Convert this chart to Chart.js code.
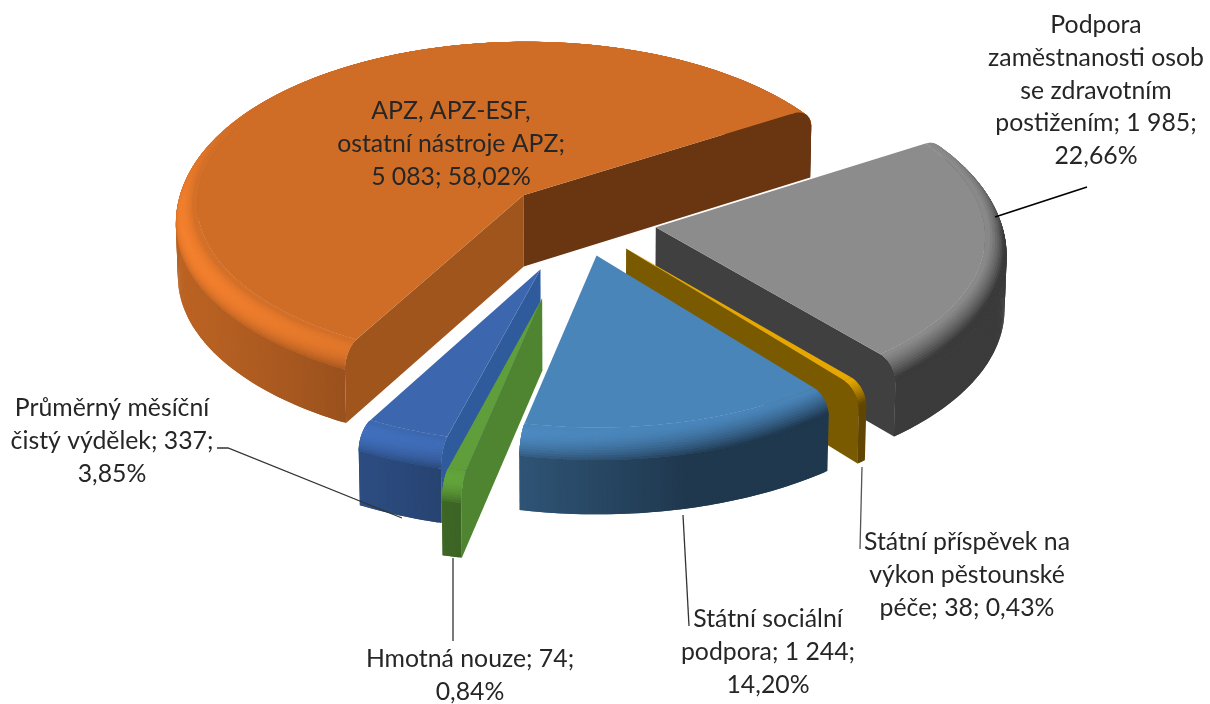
<!DOCTYPE html>
<html lang="cs">
<head>
<meta charset="utf-8">
<title>Výdaje</title>
<script src="https://cdn.jsdelivr.net/npm/chart.js@4"></script>
<style>
html, body { margin: 0; padding: 0; background: #fff; }
canvas { display: block; }
</style>
</head>
<body>
<canvas id="pie" width="1210" height="704"></canvas>
<script>
const categories = [
    'APZ, APZ-ESF, ostatní nástroje APZ',
    'Podpora zaměstnanosti osob se zdravotním postižením',
    'Státní příspěvek na výkon pěstounské péče',
    'Státní sociální podpora',
    'Hmotná nouze',
    'Průměrný měsíční čistý výdělek'
];
const values = [5083, 1985, 38, 1244, 74, 337];
const labelLines = [
    ['APZ, APZ-ESF,', 'ostatní nástroje APZ;', '5 083; 58,02%'],
    ['Podpora', 'zaměstnanosti osob', 'se zdravotním', 'postižením; 1 985;', '22,66%'],
    ['Státní příspěvek na', 'výkon pěstounské', 'péče; 38; 0,43%'],
    ['Státní sociální', 'podpora; 1 244;', '14,20%'],
    ['Hmotná nouze; 74;', '0,84%'],
    ['Průměrný měsíční', 'čistý výdělek; 337;', '3,85%']
];

// look of the slices
const topColors = ['#cf6d27', '#8c8c8c', '#e6a800', '#4a85ba', '#5f9e3a', '#3c67ae'];
const startCutColors = ['#a0551d', '#404040', '#7a5a00', '#2f5f8f', '#4f8430', '#2f5a9b'];
const endCutColors = ['#6a3612', '#404040', '#7a5a00', '#2f5f8f', '#4f8430', '#2f5a9b'];
const explode = [78, 76, 71, 70, 156, 103];
const paintOrder = [0, 1, 2, 5, 4, 3];

// label block: centre x, baseline of first line
const labelPos = [[451, 119], [1096, 33], [967, 550], [768, 627], [470, 667], [112, 416]];
const leaders = [
    { pts: [[995, 217], [1087, 187]], color: '#000000', width: 1.8 },
    { pts: [[862, 467], [860, 549]], color: '#555555', width: 1.3 },
    { pts: [[683, 515], [689, 626]], color: '#333333', width: 1.3 },
    { pts: [[453, 558], [453, 641]], color: '#333333', width: 1.3 },
    { pts: [[217, 448], [228, 448], [402, 518]], color: '#333333', width: 1.3 }
];

const ELEV = Math.asin(0.5);
const CAM = 6000;
const HEIGHT = 82;
const BEVEL = 22;
const LIGHT = [-0.6, 0.15, 0.75];

function shade(hex, nx, ny, nz, backFade) {
    const dot = Math.max(0, nx * LIGHT[0] + ny * LIGHT[1] + nz * LIGHT[2]);
    const ratio = 1 + ((0.35 + 0.65 * dot) / (0.35 + 0.65 * LIGHT[2]) - 1) * backFade;
    const n = parseInt(hex.slice(1), 16);
    const ch = [n >> 16, (n >> 8) & 255, n & 255].map(c => Math.min(255, Math.round(c * ratio)));
    return `rgb(${ch[0]},${ch[1]},${ch[2]})`;
}

function poly(ctx, pts, color) {
    ctx.beginPath();
    pts.forEach((p, i) => i ? ctx.lineTo(p[0], p[1]) : ctx.moveTo(p[0], p[1]));
    ctx.closePath();
    ctx.fillStyle = color;
    ctx.fill();
}

function drawSlice(ctx, arc, i) {
    const { x, y, startAngle, endAngle, outerRadius: R } = arc.getProps(['x', 'y', 'startAngle', 'endAngle', 'outerRadius']);
    const mid = (startAngle + endAngle) / 2;
    const ex = explode[i] * Math.cos(mid);
    const ey = explode[i] * Math.sin(mid);
    const sinE = Math.sin(ELEV);
    const cosE = Math.cos(ELEV);

    const project = (a, r, z) => {
        const X = ex + r * Math.cos(a);
        const Y = ey + r * Math.sin(a);
        const s = CAM / (CAM - (Y * cosE + z * sinE));
        return [x + s * X, y - s * (z * cosE - Y * sinE)];
    };

    const steps = Math.max(2, Math.ceil((endAngle - startAngle) / (Math.PI / 300)));
    const angles = [];
    for (let k = 0; k <= steps; k++) angles.push(startAngle + (endAngle - startAngle) * k / steps);

    // rounded rim profile from the flat top down to the wall
    const rows = 14;
    const profile = [];
    for (let k = 0; k <= rows; k++) {
        const phi = (Math.PI / 2) * k / rows;
        profile.push({ r: R - BEVEL + BEVEL * Math.sin(phi), z: HEIGHT - BEVEL + BEVEL * Math.cos(phi), phi });
    }

    const cutFace = (a, color) => {
        const pts = [project(a, 0, HEIGHT)];
        profile.forEach(p => pts.push(project(a, p.r, p.z)));
        pts.push(project(a, R, 0), project(a, 0, 0));
        poly(ctx, pts, color);
    };

    // the far side of the rim melts into the top colour
    const fade = a => Math.max(0, Math.min(1, (Math.sin(a) + 0.6) / 0.6));

    // each quad overlaps its neighbour by one step so no seams show
    const shell = (front) => {
        for (let k = 0; k < steps; k++) {
            const a0 = angles[k], am = (a0 + angles[k + 1]) / 2, a1 = angles[Math.min(k + 2, steps)];
            if ((Math.sin(am) >= 0) !== front) continue;
            poly(ctx, [project(a0, R, HEIGHT - BEVEL), project(a1, R, HEIGHT - BEVEL), project(a1, R, 0), project(a0, R, 0)],
                shade(topColors[i], Math.cos(am), Math.sin(am), 0, 1));
        }
        for (let row = rows - 1; row >= 0; row--) {
            const p0 = profile[row], p1 = profile[Math.min(row + 2, rows)];
            const phi = (p0.phi + profile[row + 1].phi) / 2;
            for (let k = 0; k < steps; k++) {
                const a0 = angles[k], am = (a0 + angles[k + 1]) / 2, a1 = angles[Math.min(k + 2, steps)];
                if ((Math.sin(am) >= 0) !== front) continue;
                poly(ctx, [project(a0, p0.r, p0.z), project(a1, p0.r, p0.z), project(a1, p1.r, p1.z), project(a0, p1.r, p1.z)],
                    shade(topColors[i], Math.cos(am) * Math.sin(phi), Math.sin(am) * Math.sin(phi), Math.cos(phi), fade(am)));
            }
        }
    };

    // back of the shell, then the cut faces that look at the viewer, then the front
    shell(false);
    if (Math.cos(startAngle) < 0) cutFace(startAngle, startCutColors[i]);
    if (Math.cos(endAngle) > 0) cutFace(endAngle, endCutColors[i]);
    shell(true);

    const top = [project(0, 0, HEIGHT)];
    angles.forEach(a => top.push(project(a, R - BEVEL, HEIGHT)));
    poly(ctx, top, topColors[i]);
}

const pie3d = {
    id: 'pie3d',
    beforeDatasetsDraw(chart) {
        const arcs = chart.getDatasetMeta(0).data;
        paintOrder.forEach(i => drawSlice(chart.ctx, arcs[i], i));
        return false;
    },
    afterDraw(chart) {
        const ctx = chart.ctx;
        ctx.save();
        leaders.forEach(line => {
            ctx.strokeStyle = line.color;
            ctx.lineWidth = line.width;
            ctx.beginPath();
            line.pts.forEach((p, i) => i ? ctx.lineTo(p[0], p[1]) : ctx.moveTo(p[0], p[1]));
            ctx.stroke();
        });
        ctx.font = '24.8px Lato';
        ctx.fillStyle = '#262626';
        ctx.textAlign = 'center';
        ctx.textBaseline = 'alphabetic';
        labelLines.forEach((lines, i) => {
            lines.forEach((text, n) => ctx.fillText(text, labelPos[i][0], labelPos[i][1] + n * 32.8));
        });
        ctx.restore();
    }
};

new Chart(document.getElementById('pie'), {
    type: 'pie',
    data: {
        labels: categories,
        datasets: [{ data: values, backgroundColor: topColors, borderWidth: 0 }]
    },
    options: {
        responsive: false,
        animation: false,
        events: [],
        rotation: 209,
        radius: 348,
        layout: { padding: { right: 50, bottom: 118 } },
        plugins: { legend: { display: false }, tooltip: { enabled: false } }
    },
    plugins: [pie3d]
});
</script>
</body>
</html>
